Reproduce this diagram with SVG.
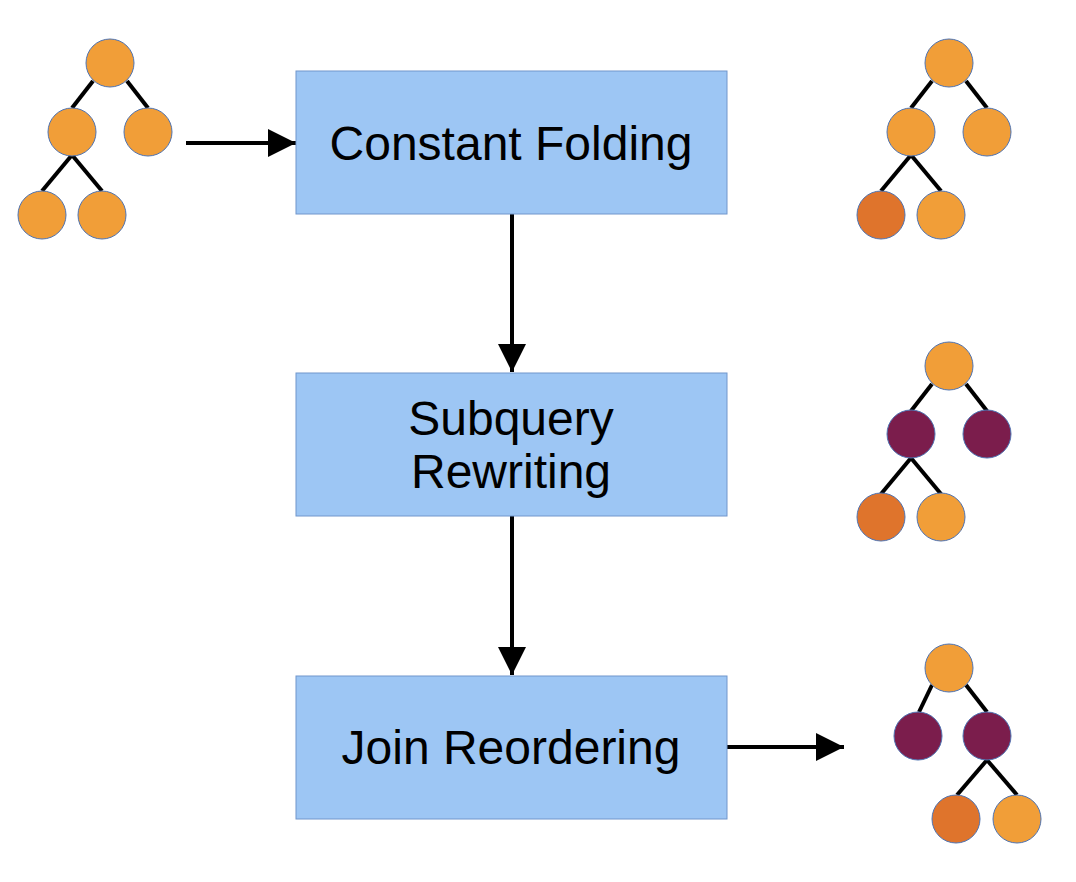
<svg xmlns="http://www.w3.org/2000/svg" width="1076" height="882" viewBox="0 0 1076 882">
<defs>
<style>
.box{fill:#9DC6F4;stroke:#7096CC;stroke-width:1}
.lbl{font-family:"Liberation Sans",Arial,sans-serif;font-size:48px;fill:#000;text-anchor:middle}
.edge{stroke:#000;stroke-width:4;fill:none}
.conn{stroke:#000;stroke-width:4;fill:none}
.o{fill:#F19E38;stroke:#4F74B3;stroke-width:1}
.d{fill:#DF742C;stroke:#4F74B3;stroke-width:1}
.p{fill:#7B1D4C;stroke:#4F74B3;stroke-width:1}
</style>
<marker id="ah" viewBox="0 0 28 28" refX="28" refY="14" markerWidth="28" markerHeight="28" markerUnits="userSpaceOnUse" orient="auto">
<path d="M0,0 L28,14 L0,28 Z" fill="#000"/>
</marker>
</defs>
<rect width="1076" height="882" fill="#fff"/>

<g id="connectors">
<line class="conn" x1="186" y1="143" x2="296" y2="143" marker-end="url(#ah)"/>
<line class="conn" x1="512" y1="214" x2="512" y2="372" marker-end="url(#ah)"/>
<line class="conn" x1="512" y1="516" x2="512" y2="675" marker-end="url(#ah)"/>
<line class="conn" x1="727" y1="747" x2="844" y2="747" marker-end="url(#ah)"/>
</g>

<g id="constant-folding">
<rect class="box" x="296" y="71" width="431" height="143"/>
<text class="lbl" x="511" y="160">Constant Folding</text>
</g>
<g id="subquery-rewriting">
<rect class="box" x="296" y="373" width="431" height="143"/>
<text class="lbl" x="511" y="435">Subquery</text>
<text class="lbl" x="511" y="488">Rewriting</text>
</g>
<g id="join-reordering">
<rect class="box" x="296" y="676" width="431" height="143"/>
<text class="lbl" x="511" y="764">Join Reordering</text>
</g>

<g id="tree-input">
<line class="edge" x1="93" y1="81" x2="72" y2="108"/>
<line class="edge" x1="127" y1="81" x2="148" y2="108"/>
<line class="edge" x1="72" y1="155" x2="42" y2="191"/>
<line class="edge" x1="72" y1="155" x2="102" y2="191"/>
<circle class="o" cx="110" cy="63" r="24"/>
<circle class="o" cx="72" cy="132" r="24"/>
<circle class="o" cx="148" cy="132" r="24"/>
<circle class="o" cx="42" cy="215" r="24"/>
<circle class="o" cx="102" cy="215" r="24"/>
</g>

<g id="tree-1">
<line class="edge" x1="932" y1="81" x2="911" y2="108"/>
<line class="edge" x1="966" y1="81" x2="987" y2="108"/>
<line class="edge" x1="911" y1="155" x2="881" y2="191"/>
<line class="edge" x1="911" y1="155" x2="941" y2="191"/>
<circle class="o" cx="949" cy="63" r="24"/>
<circle class="o" cx="911" cy="132" r="24"/>
<circle class="o" cx="987" cy="132" r="24"/>
<circle class="d" cx="881" cy="215" r="24"/>
<circle class="o" cx="941" cy="215" r="24"/>
</g>

<g id="tree-2">
<line class="edge" x1="932" y1="384" x2="911" y2="411"/>
<line class="edge" x1="966" y1="384" x2="987" y2="411"/>
<line class="edge" x1="911" y1="458" x2="881" y2="494"/>
<line class="edge" x1="911" y1="458" x2="941" y2="494"/>
<circle class="o" cx="949" cy="366" r="24"/>
<circle class="p" cx="911" cy="434" r="24"/>
<circle class="p" cx="987" cy="434" r="24"/>
<circle class="d" cx="881" cy="517" r="24"/>
<circle class="o" cx="941" cy="517" r="24"/>
</g>

<g id="tree-3">
<line class="edge" x1="932" y1="685" x2="919" y2="712"/>
<line class="edge" x1="966" y1="685" x2="987" y2="712"/>
<line class="edge" x1="987" y1="760" x2="957" y2="795"/>
<line class="edge" x1="987" y1="760" x2="1017" y2="795"/>
<circle class="o" cx="949" cy="668" r="24"/>
<circle class="p" cx="918" cy="736" r="24"/>
<circle class="p" cx="987" cy="736" r="24"/>
<circle class="d" cx="956" cy="819" r="24"/>
<circle class="o" cx="1017" cy="819" r="24"/>
</g>
</svg>
